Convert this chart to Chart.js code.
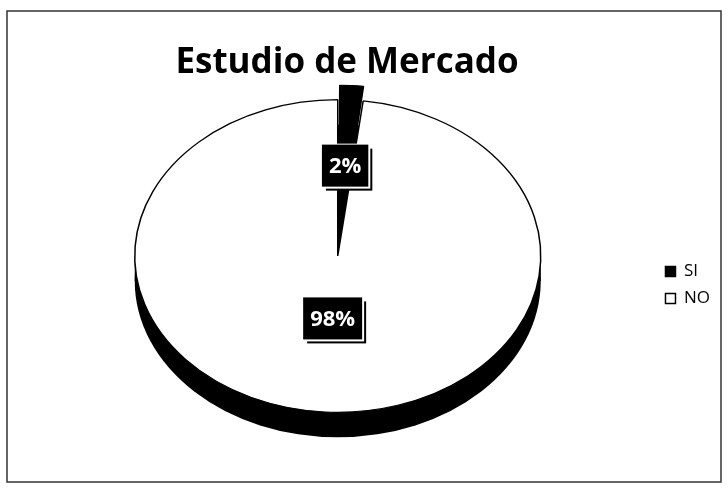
<!DOCTYPE html>
<html>
<head>
<meta charset="utf-8">
<script src="https://cdn.jsdelivr.net/npm/chart.js@4.4.0/dist/chart.umd.min.js"></script>
<style>
  html, body { margin: 0; padding: 0; background: #fff; }
  #caja { width: 728px; height: 491px; }
</style>
</head>
<body>
<div id="caja"><canvas id="graficoMercado" width="728" height="491"></canvas></div>
<script>
// datos
const titulo = 'Estudio de Mercado';
const categorias = ['SI', 'NO'];
const porcentajes = [2, 98];
const etiquetas = ['2%', '98%'];

const colores = ['#000000', '#ffffff'];
const achatado = 0.77;      // aplastamiento vertical (vista inclinada)
const grosor = 25;          // alto del lado 3D
const radioEtiqueta = [0.53, 0.40];

// pastel "3D": lado negro + escala vertical
const pastel3d = {
  id: 'pastel3d',
  beforeDraw(chart) {
    const ctx = chart.ctx;
    ctx.save();
    ctx.strokeStyle = '#333';
    ctx.lineWidth = 1.5;
    ctx.strokeRect(7, 11, 714, 471);
    ctx.fillStyle = '#000';
    ctx.font = 'bold 35px "Open Sans"';
    ctx.textAlign = 'center';
    ctx.textBaseline = 'alphabetic';
    ctx.fillText(titulo, 347, 73);
    ctx.restore();
  },
  beforeDatasetsDraw(chart) {
    const ctx = chart.ctx;
    const arco = chart.getDatasetMeta(0).data[1];
    const cx = arco.x, cy = arco.y, r = arco.outerRadius;
    ctx.save();
    ctx.fillStyle = '#000';
    ctx.beginPath();
    ctx.ellipse(cx, cy + grosor, r, r * achatado, 0, 0, Math.PI * 2);
    ctx.fill();
    ctx.fillRect(cx - r, cy, 2 * r, grosor);
    ctx.translate(cx, cy);
    ctx.scale(1, achatado);
    ctx.translate(-cx, -cy);
  },
  afterDatasetsDraw(chart) {
    const ctx = chart.ctx;
    ctx.restore();
    const meta = chart.getDatasetMeta(0);
    ctx.save();
    ctx.font = 'bold 22px "Open Sans"';
    ctx.textAlign = 'center';
    ctx.textBaseline = 'middle';
    meta.data.forEach((arco, i) => {
      const medio = (arco.startAngle + arco.endAngle) / 2;
      const off = (arco.options.offset || 0) / 4;
      const d = arco.outerRadius * radioEtiqueta[i] + off;
      const x = arco.x + Math.cos(medio) * d;
      const y = arco.y + Math.sin(medio) * d * achatado;
      const texto = etiquetas[i];
      const w = ctx.measureText(texto).width + 14;
      const h = 42;
      // sombra
      ctx.fillStyle = '#000';
      ctx.fillRect(x - w / 2 + 4, y - h / 2 + 4, w, h);
      ctx.fillStyle = '#fff';
      ctx.fillRect(x - w / 2 - 1, y - h / 2 - 1, w + 3, h + 3);
      ctx.fillStyle = '#000';
      ctx.fillRect(x - w / 2, y - h / 2, w, h);
      ctx.fillStyle = '#fff';
      ctx.fillText(texto, x, y + 1);
    });
    ctx.restore();
  }
};

const graficoMercado = document.getElementById('graficoMercado');

const graficoPastel = new Chart(graficoMercado, {
  type: 'pie',
  data: {
    labels: categorias,
    datasets: [{
      data: porcentajes,
      backgroundColor: colores,
      borderColor: '#000',
      borderWidth: 1.5,
      offset: [40, 0],
      radius: 203,
      clip: false
    }]
  },
  options: {
    responsive: false,
    animation: false,
    layout: { padding: { top: 90, right: 8, bottom: 69, left: 20 } },
    plugins: {
      title: { display: false },
      legend: {
        position: 'right',
        align: 'start',
        title: {
          display: true,
          text: ' ',
          font: { size: 10 },
          padding: { top: 151, bottom: 0 }
        },
        labels: {
          color: '#000',
          boxWidth: 10,
          boxHeight: 10,
          padding: 10,
          font: { family: '"Open Sans"', size: 17 }
        }
      },
      tooltip: { enabled: false }
    }
  },
  plugins: [pastel3d]
});
</script>
</body>
</html>
